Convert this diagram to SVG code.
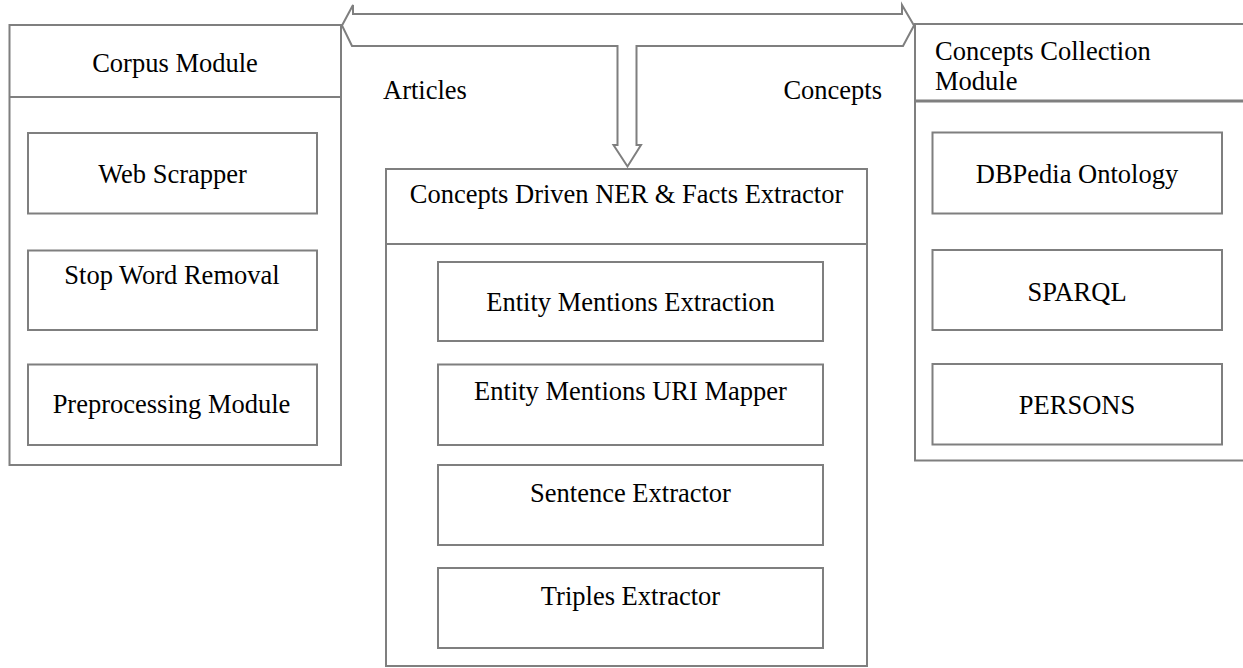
<svg xmlns="http://www.w3.org/2000/svg" width="1243" height="668" viewBox="0 0 1243 668">
<style>
.b{fill:#fff;stroke:#7f7f7f;stroke-width:2}
.l{fill:none;stroke:#7f7f7f;stroke-width:2}
.t{font-family:"Liberation Serif","Times New Roman",serif;font-size:26.5px;fill:#000}
.c{text-anchor:middle}
</style>
<rect width="1243" height="668" fill="#fff"/>
<g id="corpus-module">
<rect class="b" x="9.5" y="25" width="331.5" height="440"/>
<line class="l" x1="9.5" y1="97" x2="341" y2="97"/>
<text class="t c" x="175" y="72">Corpus Module</text>
<g id="web-scrapper"><rect class="b" x="28" y="133" width="289" height="80.5"/><text class="t c" x="172.5" y="183">Web Scrapper</text></g>
<g id="stop-word-removal"><rect class="b" x="28" y="250.5" width="289" height="79.5"/><text class="t c" x="172" y="284">Stop Word Removal</text></g>
<g id="preprocessing-module"><rect class="b" x="28" y="364.5" width="289" height="80.5"/><text class="t c" x="171.5" y="413">Preprocessing Module</text></g>
</g>
<g id="concepts-collection-module">
<rect class="b" x="915" y="24" width="340" height="436.5"/>
<line class="l" x1="915" y1="101" x2="1243" y2="101" style="stroke-width:3"/>
<text class="t" x="935" y="60">Concepts Collection</text>
<text class="t" x="935" y="90">Module</text>
<g id="dbpedia-ontology"><rect class="b" x="932.5" y="132.5" width="289.5" height="81"/><text class="t c" x="1077" y="183">DBPedia Ontology</text></g>
<g id="sparql"><rect class="b" x="932.5" y="250" width="289.5" height="80"/><text class="t c" x="1077" y="300.5">SPARQL</text></g>
<g id="persons"><rect class="b" x="932.5" y="364" width="289.5" height="80.5"/><text class="t c" x="1077" y="414">PERSONS</text></g>
</g>
<g id="ner-facts-extractor">
<rect class="b" x="386" y="169" width="481" height="497"/>
<line class="l" x1="386" y1="244" x2="867" y2="244"/>
<text class="t c" x="626.5" y="203">Concepts Driven NER &amp; Facts Extractor</text>
<g id="entity-mentions-extraction"><rect class="b" x="438" y="262" width="385" height="79"/><text class="t c" x="630.5" y="310.5">Entity Mentions Extraction</text></g>
<g id="entity-mentions-uri-mapper"><rect class="b" x="438" y="364.5" width="385" height="80.5"/><text class="t c" x="630.5" y="400">Entity Mentions URI Mapper</text></g>
<g id="sentence-extractor"><rect class="b" x="438" y="465" width="385" height="80"/><text class="t c" x="630.5" y="501.5">Sentence Extractor</text></g>
<g id="triples-extractor"><rect class="b" x="438" y="568" width="385" height="80"/><text class="t c" x="630.5" y="605">Triples Extractor</text></g>
</g>
<g id="connectors">
<path class="b" d="M342,25.5 L353,5 L353,14 L902,14 L902,5 L914,25.5 L903,46 L636.5,46 L636.5,145 L641,145 L627.5,166.5 L613.5,145 L617.5,145 L617.5,46 L352,46 Z" stroke-linejoin="miter"/>
<text class="t" x="383" y="99">Articles</text>
<text class="t" x="882" y="99" text-anchor="end">Concepts</text>
</g>
</svg>
